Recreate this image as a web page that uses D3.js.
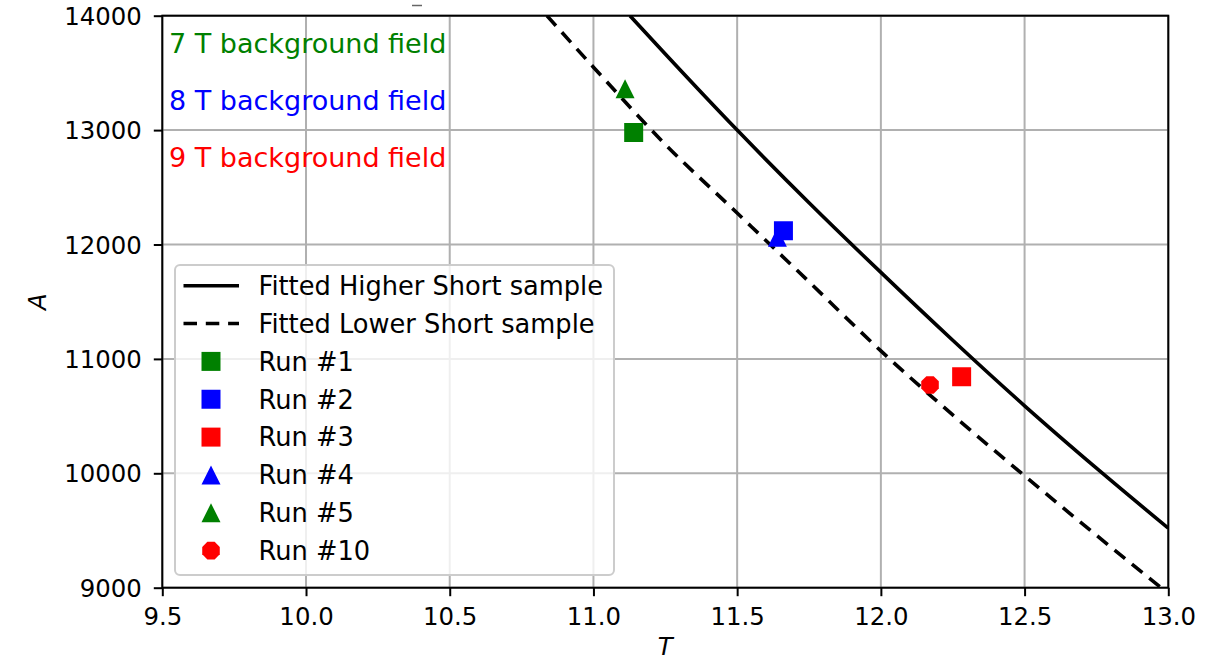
<!DOCTYPE html>
<html>
<head>
<meta charset="utf-8">
<script src="https://cdn.jsdelivr.net/npm/d3@7"></script>
<style>
  html, body { margin: 0; padding: 0; background: #fff; }
  svg { display: block; font-family: "DejaVu Sans", sans-serif; }
</style>
</head>
<body>
<svg id="chart" width="1228" height="661"></svg>
<script>
// ---- data ----
const xTicks = [9.5, 10.0, 10.5, 11.0, 11.5, 12.0, 12.5, 13.0];
const yTicks = [9000, 10000, 11000, 12000, 13000, 14000];

// fitted curves (T, A)
const higherT = [11.127, 11.25, 11.5, 11.75, 12.0, 12.25, 12.5, 12.75, 13.0];
const higherA = [14000, 13665, 13000, 12365, 11756, 11163, 10590, 10045, 9520];
const lowerT  = [10.838, 11.0, 11.25, 11.5, 11.75, 12.0, 12.25, 12.5, 12.75, 12.975];
const lowerA  = [14000, 13550, 12875, 12275, 11674, 11070, 10510, 9978, 9458, 9000];

// measured runs
const runNames  = ["Run #1", "Run #2", "Run #3", "Run #4", "Run #5", "Run #10"];
const runT      = [11.140, 11.661, 12.281, 11.640, 11.110, 12.171];
const runA      = [12979, 12120, 10844, 12064, 13361, 10772];
const runColors = ["green", "blue", "red", "blue", "green", "red"];
const runShapes = ["square", "square", "square", "triangle", "triangle", "octagon"];

const fieldLabels = ["7 T background field", "8 T background field", "9 T background field"];
const fieldColors = ["green", "blue", "red"];

const curveNames = ["Fitted Higher Short sample", "Fitted Lower Short sample"];

// ---- layout ----
const L = 162.3, R = 1168.3, T0 = 15.7, B = 587.7;
const svg = d3.select("#chart");
const x = d3.scaleLinear().domain([9.5, 13.0]).range([L, R]);
const y = d3.scaleLinear().domain([9000, 14000]).range([B, T0]);

svg.append("defs").append("clipPath").attr("id", "plotclip")
  .append("rect").attr("x", L).attr("y", T0).attr("width", R - L).attr("height", B - T0);

// grid
const grid = svg.append("g");
grid.selectAll(".gx").data(xTicks).join("line")
  .attr("x1", d => x(d)).attr("x2", d => x(d)).attr("y1", T0).attr("y2", B)
  .attr("stroke", "#b0b0b0").attr("stroke-width", 2);
grid.selectAll(".gy").data(yTicks).join("line")
  .attr("y1", d => y(d)).attr("y2", d => y(d)).attr("x1", L).attr("x2", R)
  .attr("stroke", "#b0b0b0").attr("stroke-width", 2);

// curves
const plot = svg.append("g").attr("clip-path", "url(#plotclip)");
const line = d3.line().curve(d3.curveMonotoneX).x(d => x(d[0])).y(d => y(d[1]));
const higher = higherT.map((t, i) => [t, higherA[i]]);
const lower = lowerT.map((t, i) => [t, lowerA[i]]);
plot.append("path").datum(higher).attr("d", line)
  .attr("fill", "none").attr("stroke", "#000").attr("stroke-width", 3.6);
plot.append("path").datum(lower).attr("d", line)
  .attr("fill", "none").attr("stroke", "#000").attr("stroke-width", 3.6)
  .attr("stroke-dasharray", "13.5,8.8");

// marker shapes
const MS = 19;
function markerPath(shape, s) {
  const h = s / 2;
  if (shape === "square") return `M${-h},${-h}H${h}V${h}H${-h}Z`;
  if (shape === "triangle") return `M0,${-h}L${-h},${h}L${h},${h}Z`;
  // octagon
  const pts = d3.range(8).map(k => {
    const a = Math.PI / 8 + k * Math.PI / 4;
    return [h * Math.cos(a), h * Math.sin(a)];
  });
  return "M" + pts.map(p => p.join(",")).join("L") + "Z";
}

plot.selectAll(".run").data(runNames.map((n, i) => i)).join("path")
  .attr("transform", i => `translate(${x(runT[i])},${y(runA[i])})`)
  .attr("d", i => markerPath(runShapes[i], MS))
  .attr("fill", i => runColors[i]);

// spines
svg.append("rect").attr("x", L).attr("y", T0).attr("width", R - L).attr("height", B - T0)
  .attr("fill", "none").attr("stroke", "#000").attr("stroke-width", 2);

// axes
const xAxis = d3.axisBottom(x).tickValues(xTicks).tickFormat(d3.format(".1f")).tickSizeOuter(0).tickSize(8.5).tickPadding(5);
const yAxis = d3.axisLeft(y).tickValues(yTicks).tickFormat(d3.format("d")).tickSizeOuter(0).tickSize(8.5).tickPadding(6);
const gx = svg.append("g").attr("transform", `translate(0,${B})`).call(xAxis);
const gy = svg.append("g").attr("transform", `translate(${L},0)`).call(yAxis);
[gx, gy].forEach(g => {
  g.select(".domain").remove();
  g.selectAll(".tick line").attr("stroke", "#000").attr("stroke-width", 2);
  g.selectAll(".tick text").attr("fill", "#000").attr("font-size", 24.4)
    .attr("font-family", "DejaVu Sans");
});
gx.selectAll(".tick text").attr("dy", null).attr("y", 0).attr("transform", "translate(0,37.3)");
gy.selectAll(".tick text").attr("dy", "0.35em").attr("x", -20.5);

// axis labels
svg.append("text").attr("x", (L + R) / 2).attr("y", 654.5).attr("text-anchor", "middle")
  .attr("font-size", 24.4).attr("font-style", "italic").text("T");
svg.append("text").attr("transform", `translate(46,${(T0 + B) / 2}) rotate(-90)`)
  .attr("text-anchor", "middle").attr("font-size", 24.4).attr("font-style", "italic").text("A");

// field annotations
svg.selectAll(".field").data(fieldLabels).join("text")
  .attr("x", 169).attr("y", (d, i) => 52.7 + i * 57)
  .attr("fill", (d, i) => fieldColors[i]).attr("font-size", 27).text(d => d);

// small clipped title remnant at top
svg.append("line").attr("x1", 412).attr("x2", 422).attr("y1", 5.5).attr("y2", 5.5)
  .attr("stroke", "#666").attr("stroke-width", 1.5);

// legend
const leg = svg.append("g");
leg.append("rect").attr("x", 175).attr("y", 265).attr("width", 439).attr("height", 310)
  .attr("rx", 5).attr("fill", "#fff").attr("fill-opacity", 0.8)
  .attr("stroke", "#cccccc").attr("stroke-width", 2);
const rowY = i => 285.7 + i * 37.85;
const legItems = curveNames.map((n, i) => ({ name: n, type: "line", dash: i === 1 }))
  .concat(runNames.map((n, i) => ({ name: n, type: "marker", idx: i })));
legItems.forEach((it, i) => {
  const yy = rowY(i);
  if (it.type === "line") {
    leg.append("line").attr("x1", 183.5).attr("x2", 239).attr("y1", yy).attr("y2", yy)
      .attr("stroke", "#000").attr("stroke-width", 3.6)
      .attr("stroke-dasharray", it.dash ? "13.5,8.8" : null);
  } else {
    leg.append("path").attr("transform", `translate(211,${yy})`)
      .attr("d", markerPath(runShapes[it.idx], MS)).attr("fill", runColors[it.idx]);
  }
  leg.append("text").attr("x", 258.5).attr("y", yy).attr("dy", "0.36em")
    .attr("font-size", 25.7).attr("fill", "#000").text(it.name);
});
</script>
</body>
</html>
